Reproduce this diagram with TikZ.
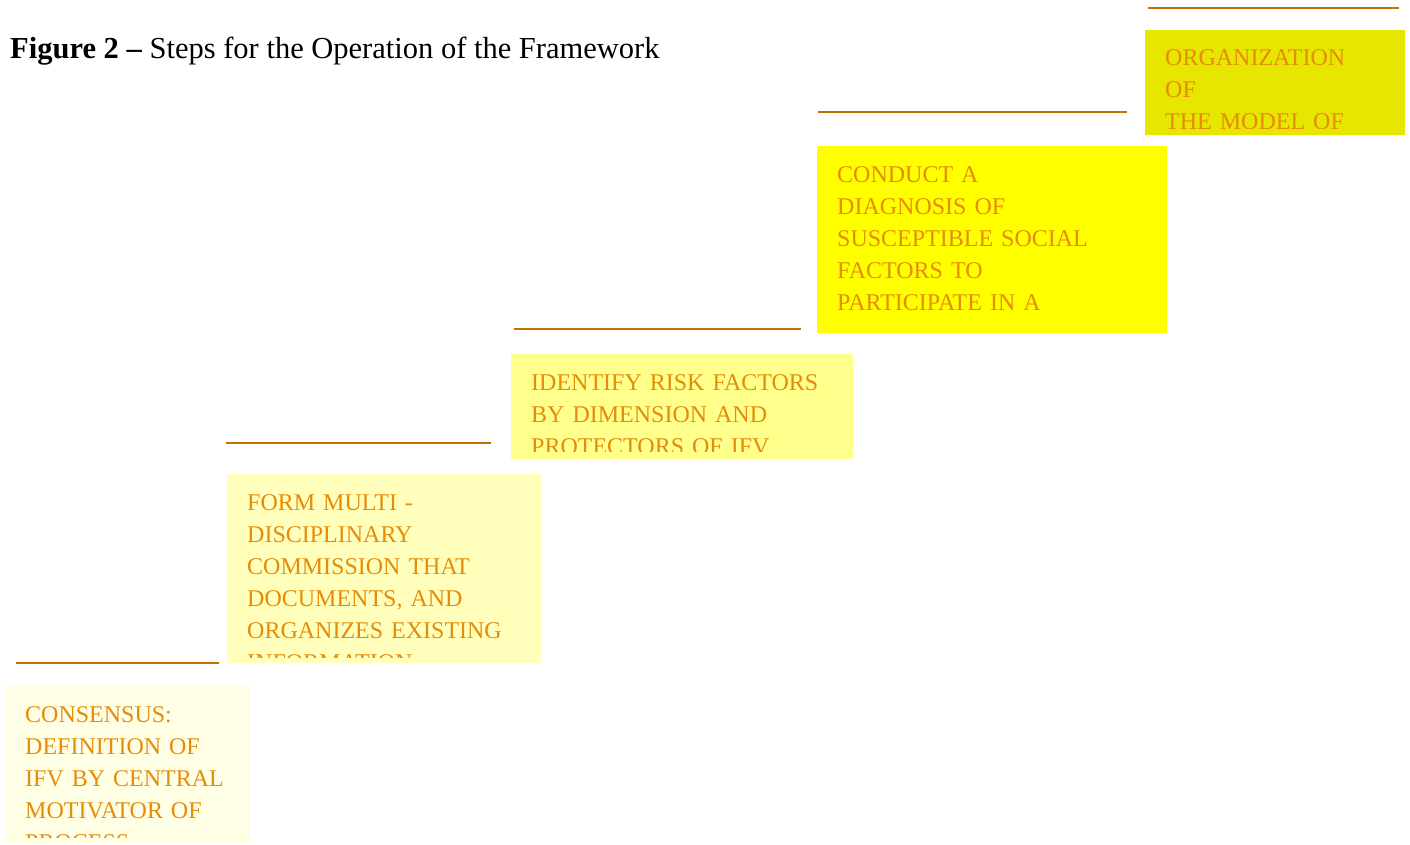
\documentclass[tikz,border=0pt]{standalone}
\usepackage{fontspec}
\setmainfont{Liberation Serif}
\definecolor{lineorange}{RGB}{192,112,0}
\definecolor{textorange}{RGB}{230,140,10}
\definecolor{stepA}{RGB}{255,255,230}
\definecolor{stepB}{RGB}{255,255,187}
\definecolor{stepC}{RGB}{255,255,140}
\definecolor{stepD}{RGB}{255,255,0}
\definecolor{stepE}{RGB}{230,230,0}
\tikzset{
  stepline/.style={draw=lineorange, line width=2pt},
  stepbox/.style={draw=none, inner sep=0pt, anchor=north west},
  steptext/.style={text=textorange, font=\fontsize{24}{32}\selectfont,
    text width=330pt, align=left, inner sep=0pt, anchor=base west}
}
\begin{document}
\begin{tikzpicture}[x=1pt,y=-1pt]
  \useasboundingbox (0,0) rectangle (1410,844);
  \node [anchor=base west, inner sep=0pt, font=\fontsize{30.5}{36}\selectfont] (title) at (10,58)
    {\textbf{Figure 2 –} Steps for the Operation of the Framework};

% step 1
  \draw [stepline] (16,663) -- (219,663);
  \node [stepbox, fill=stepA, minimum width=245pt, minimum height=158pt] (box1) at (5,686) {};
  \begin{scope}
    \clip (box1.north west) rectangle ([yshift=7pt]box1.south east);
    \node [steptext] (txt1) at ([xshift=20pt,yshift=-36pt]box1.north west)
      {CONSENSUS:\\DEFINITION OF\\IFV BY CENTRAL\\MOTIVATOR OF\\PROCESS};
  \end{scope}

% step 2
  \draw [stepline] (226,443) -- (491,443);
  \node [stepbox, fill=stepB, minimum width=314pt, minimum height=189pt] (box2) at (227,474) {};
  \begin{scope}
    \clip (box2.north west) rectangle ([yshift=6pt]box2.south east);
    \node [steptext] (txt2) at ([xshift=20pt,yshift=-36pt]box2.north west)
      {FORM MULTI -\\DISCIPLINARY\\COMMISSION THAT\\DOCUMENTS, AND\\ORGANIZES EXISTING\\INFORMATION};
  \end{scope}

% step 3
  \draw [stepline] (514,329) -- (801,329);
  \node [stepbox, fill=stepC, minimum width=342pt, minimum height=105pt] (box3) at (511,354) {};
  \begin{scope}
    \clip (box3.north west) rectangle ([yshift=8pt]box3.south east);
    \node [steptext] (txt3) at ([xshift=20pt,yshift=-36.5pt]box3.north west)
      {IDENTIFY RISK FACTORS\\BY DIMENSION AND\\PROTECTORS OF IFV};
  \end{scope}

% step 4
  \draw [stepline] (818,111.5) -- (1127,111.5);
  \node [stepbox, fill=stepD, minimum width=350pt, minimum height=187pt] (box4) at (817,146) {};
  \begin{scope}
    \clip (box4.north west) rectangle ([yshift=8pt]box4.south east);
    \node [steptext] (txt4) at ([xshift=20pt,yshift=-36.5pt]box4.north west)
      {CONDUCT A\\DIAGNOSIS OF\\SUSCEPTIBLE SOCIAL\\FACTORS TO\\PARTICIPATE IN A};
  \end{scope}

% step 5
  \draw [stepline] (1148,7.5) -- (1399,7.5);
  \node [stepbox, fill=stepE, minimum width=260pt, minimum height=105pt] (box5) at (1145,30) {};
  \begin{scope}
    \clip (box5.north west) rectangle ([yshift=7pt]box5.south east);
    \node [steptext] (txt5) at ([xshift=20pt,yshift=-35.5pt]box5.north west)
      {ORGANIZATION\\OF\\THE MODEL OF};
  \end{scope}
\end{tikzpicture}
\end{document}
